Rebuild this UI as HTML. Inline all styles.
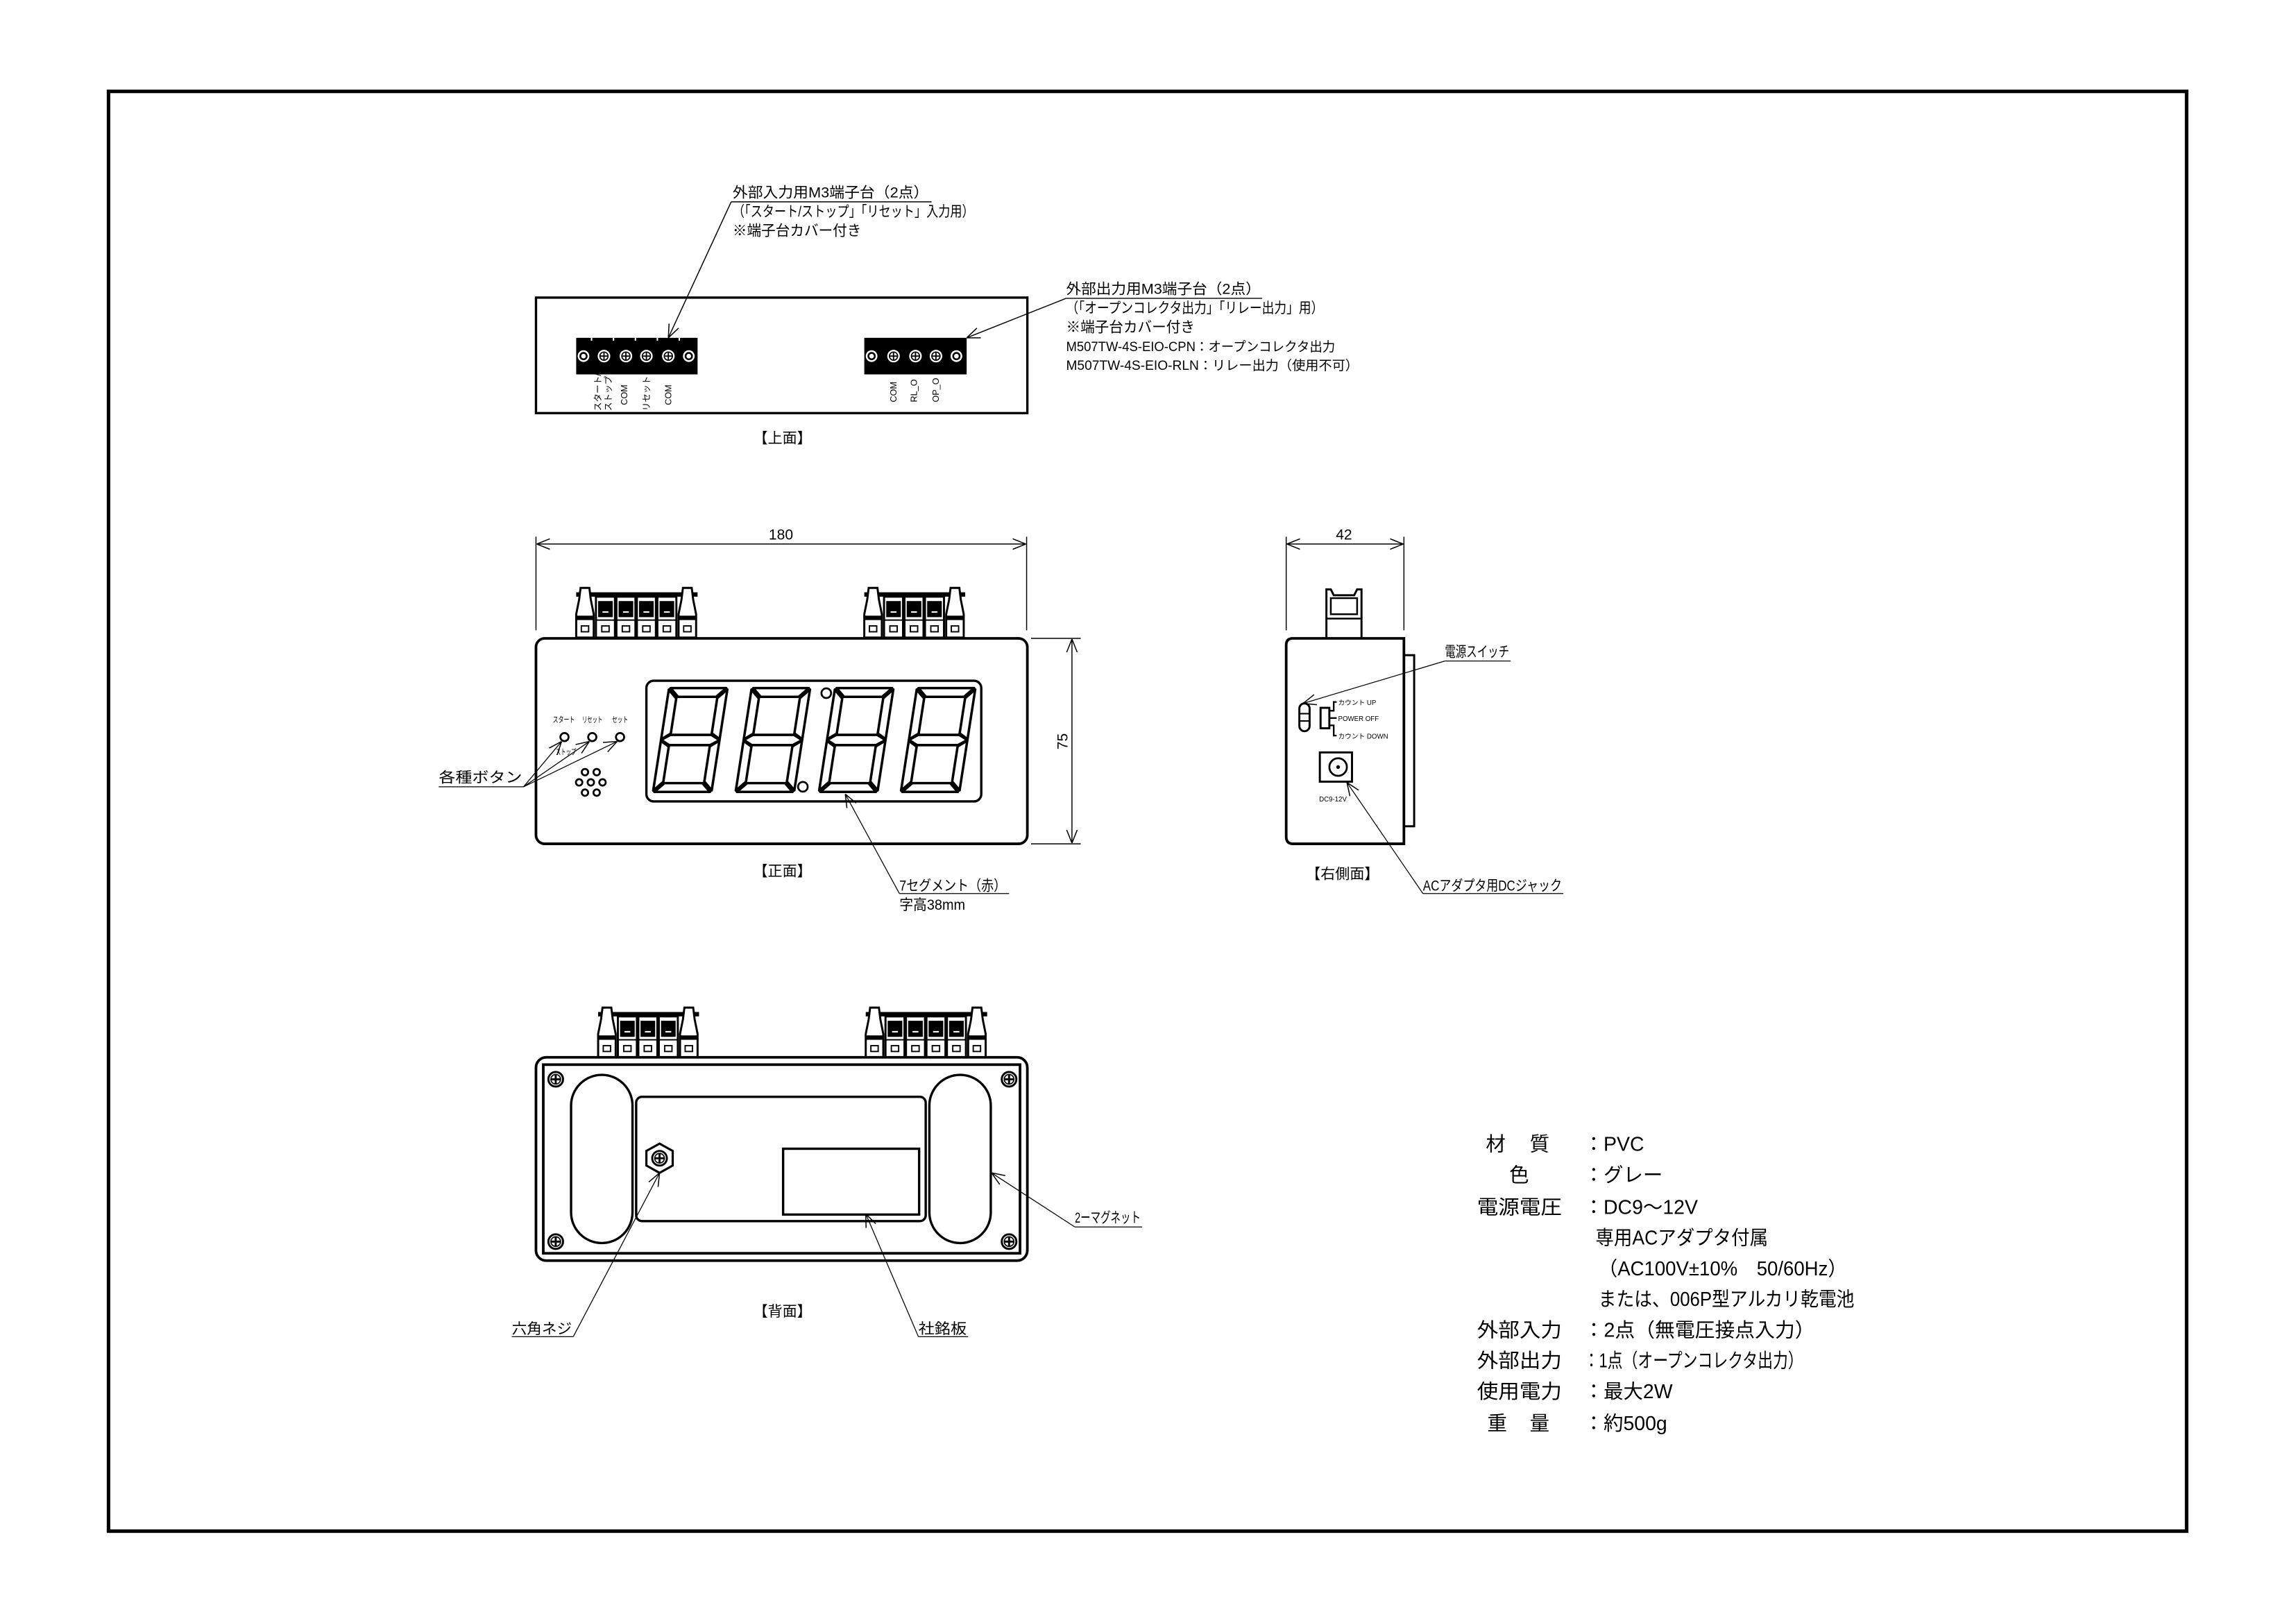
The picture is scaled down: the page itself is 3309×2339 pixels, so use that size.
<!DOCTYPE html>
<html><head><meta charset="utf-8"><style>
html,body{margin:0;padding:0;background:#fff}
svg{display:block}
text{font-family:"Liberation Sans","Noto Sans CJK JP",sans-serif;fill:#000}
</style></head><body>
<svg xmlns="http://www.w3.org/2000/svg" width="3309" height="2339" viewBox="0 0 1570 1109.8" preserveAspectRatio="none">
<defs>
<marker id="ar" viewBox="0 0 10 10" refX="10" refY="5" markerWidth="9" markerHeight="9" orient="auto-start-reverse" markerUnits="userSpaceOnUse"><path d="M0,1 L10,5 L0,9" fill="none" stroke="#000" stroke-width="0.8"/></marker>
<g id="term"><rect x="0.5" y="6" width="13" height="28" fill="#fff" stroke="#000" stroke-width="1.4"/><rect x="2" y="9" width="10" height="11" fill="#000"/><rect x="5" y="16" width="4" height="1" fill="#fff"/><line x1="1" y1="22" x2="13" y2="22" stroke="#000" stroke-width="1"/><rect x="4.5" y="26" width="5" height="4" fill="none" stroke="#000" stroke-width="0.9"/></g>
<g id="post"><path d="M4,0 L10,0 L11,8 L13,18 L13,34 L1,34 L1,18 L3,8 Z" fill="#fff" stroke="#000" stroke-width="1.4"/><rect x="1" y="19" width="12" height="3" fill="#000"/><rect x="4.5" y="26" width="5" height="4" fill="none" stroke="#000" stroke-width="0.9"/></g>
<g id="dig" fill="none" stroke="#000" stroke-width="1.7" stroke-linejoin="round">
<polygon points="1,0 39,0 33,6 7,6"/><polygon points="0,1 6,7 6,31 0,35"/><polygon points="40,1 40,35 34,31 34,7"/>
<polygon points="0,35.5 6,32 34,32 40,35.5 34,39 6,39"/><polygon points="0,36 6,40 6,64 0,70"/><polygon points="40,36 40,70 34,64 34,40"/><polygon points="1,71 39,71 33,65 7,65"/></g>
<g id="scr"><circle r="5" fill="#fff" stroke="#000" stroke-width="1.4"/><circle r="3.3" fill="none" stroke="#000" stroke-width="0.8"/><line x1="-3" y1="0" x2="3" y2="0" stroke="#000" stroke-width="1.4"/><line x1="0" y1="-3" x2="0" y2="3" stroke="#000" stroke-width="1.4"/></g>
<g id="tc"><circle r="4.3" fill="#fff"/><circle r="2.8" fill="none" stroke="#000" stroke-width="0.8"/><line x1="-2.5" y1="0" x2="2.5" y2="0" stroke="#000" stroke-width="0.9"/><line x1="0" y1="-2.5" x2="0" y2="2.5" stroke="#000" stroke-width="0.9"/></g>
<g id="te"><circle r="4" fill="#fff"/><circle r="2.2" fill="none" stroke="#000" stroke-width="1.2"/></g>
</defs>

<rect x="74.2" y="62.5" width="1421" height="984.5" fill="none" stroke="#000" stroke-width="2.4"/>

<!-- TOP VIEW -->
<rect x="366.5" y="203.5" width="336" height="79" fill="none" stroke="#000" stroke-width="1.6"/>
<rect x="394" y="231" width="83" height="25" fill="#000"/>
<g fill="#fff"><rect x="404" y="231" width="1" height="2"/><rect x="419" y="231" width="1" height="2"/><rect x="434" y="231" width="1" height="2"/><rect x="449" y="231" width="1" height="2"/><rect x="464" y="231" width="1" height="2"/></g>
<use href="#te" x="399" y="243.5"/><use href="#tc" x="413" y="243.5"/><use href="#tc" x="428" y="243.5"/><use href="#tc" x="442" y="243.5"/><use href="#tc" x="457" y="243.5"/><use href="#te" x="471" y="243.5"/>
<rect x="591" y="231" width="70" height="25" fill="#000"/>
<use href="#te" x="596" y="243.5"/><use href="#tc" x="611" y="243.5"/><use href="#tc" x="626" y="243.5"/><use href="#tc" x="640" y="243.5"/><use href="#te" x="654" y="243.5"/>
<g font-size="6">
<text transform="translate(411,281) rotate(-90)">スタート/</text>
<text transform="translate(418,281) rotate(-90)">ストップ</text>
<text transform="translate(429,277) rotate(-90)">COM</text>
<text transform="translate(444,281) rotate(-90)">リセット</text>
<text transform="translate(459,277) rotate(-90)">COM</text>
<text transform="translate(613,275) rotate(-90)">COM</text>
<text transform="translate(627,275) rotate(-90)">RL_O</text>
<text transform="translate(642,275) rotate(-90)">OP_O</text>
</g>
<g font-size="10">
<text x="501" y="135" textLength="134" lengthAdjust="spacingAndGlyphs">外部入力用M3端子台（2点）</text>
<text x="501" y="148" textLength="165" lengthAdjust="spacingAndGlyphs">（「スタート/ストップ」「リセット」入力用）</text>
<text x="501" y="161" textLength="88" lengthAdjust="spacingAndGlyphs">※端子台カバー付き</text>
<text x="729" y="201" textLength="133" lengthAdjust="spacingAndGlyphs">外部出力用M3端子台（2点）</text>
<text x="729" y="214" textLength="176" lengthAdjust="spacingAndGlyphs">（「オープンコレクタ出力」「リレー出力」用）</text>
<text x="729" y="227" textLength="88" lengthAdjust="spacingAndGlyphs">※端子台カバー付き</text>
<text x="729" y="240" font-size="9" textLength="184" lengthAdjust="spacingAndGlyphs">M507TW-4S-EIO-CPN：オープンコレクタ出力</text>
<text x="729" y="253" font-size="9" textLength="200" lengthAdjust="spacingAndGlyphs">M507TW-4S-EIO-RLN：リレー出力（使用不可）</text>
<text x="535" y="303" text-anchor="middle">【上面】</text>
</g>
<g stroke="#000" stroke-width="0.7" fill="none">
<line x1="500" y1="138" x2="637" y2="138"/>
<line x1="500" y1="138" x2="457" y2="231" marker-end="url(#ar)"/>
<line x1="729" y1="204" x2="863" y2="204"/>
<line x1="729" y1="204" x2="661" y2="231" marker-end="url(#ar)"/>
</g>

<!-- FRONT VIEW -->
<g stroke="#000" stroke-width="0.7" fill="none">
<line x1="366.5" y1="367" x2="366.5" y2="431"/><line x1="702" y1="367" x2="702" y2="431"/>
<line x1="367" y1="372" x2="701.5" y2="372" marker-start="url(#ar)" marker-end="url(#ar)"/>
<line x1="705" y1="436.5" x2="739" y2="436.5"/><line x1="705" y1="577" x2="739" y2="577"/>
<line x1="733" y1="437" x2="733" y2="576.5" marker-start="url(#ar)" marker-end="url(#ar)"/>
</g>
<text x="534" y="369" font-size="10" text-anchor="middle">180</text>
<text transform="translate(730,507) rotate(-90)" font-size="10" text-anchor="middle">75</text>
<rect x="394" y="405" width="83" height="3" fill="#000"/>
<use href="#post" x="393" y="402"/><use href="#term" x="407" y="402"/><use href="#term" x="421" y="402"/><use href="#term" x="435" y="402"/><use href="#term" x="449" y="402"/><use href="#post" x="463" y="402"/>
<rect x="591" y="405" width="69" height="3" fill="#000"/>
<use href="#post" x="590" y="402"/><use href="#term" x="604" y="402"/><use href="#term" x="618" y="402"/><use href="#term" x="632" y="402"/><use href="#post" x="646" y="402"/>
<rect x="366.5" y="436.5" width="336" height="140.5" rx="6" fill="#fff" stroke="#000" stroke-width="1.8"/>
<rect x="442" y="465.5" width="229" height="82.5" rx="5" fill="none" stroke="#000" stroke-width="1.6"/>
<use href="#dig" transform="translate(457.5,470.5) skewX(-8.8)"/>
<use href="#dig" transform="translate(514,470.5) skewX(-8.8)"/>
<use href="#dig" transform="translate(571,470.5) skewX(-8.8)"/>
<use href="#dig" transform="translate(627,470.5) skewX(-8.8)"/>
<circle cx="565" cy="474" r="3.3" fill="none" stroke="#000" stroke-width="1.3"/>
<circle cx="549" cy="538" r="3.3" fill="none" stroke="#000" stroke-width="1.3"/>
<g font-size="5.5"><text x="378" y="494" textLength="15" lengthAdjust="spacingAndGlyphs">スタート</text><text x="398" y="494" textLength="14" lengthAdjust="spacingAndGlyphs">リセット</text><text x="418.5" y="494" textLength="11" lengthAdjust="spacingAndGlyphs">セット</text><text x="380" y="516" textLength="14" lengthAdjust="spacingAndGlyphs">ストップ</text></g>
<g fill="none" stroke="#000" stroke-width="1.3"><circle cx="386" cy="504" r="2.8"/><circle cx="405" cy="504" r="2.8"/><circle cx="424" cy="504" r="2.8"/>
<circle cx="400" cy="528" r="2.2"/><circle cx="408" cy="528" r="2.2"/><circle cx="396" cy="535" r="2.2"/><circle cx="404" cy="535" r="2.2"/><circle cx="412" cy="535" r="2.2"/><circle cx="400" cy="542" r="2.2"/><circle cx="408" cy="542" r="2.2"/></g>
<g stroke="#000" stroke-width="0.6" fill="none">
<line x1="300" y1="538" x2="358" y2="538"/>
<line x1="358" y1="538" x2="384" y2="507" marker-end="url(#ar)"/>
<line x1="358" y1="538" x2="403" y2="507" marker-end="url(#ar)"/>
<line x1="358" y1="538" x2="422" y2="507" marker-end="url(#ar)"/>
<line x1="615" y1="611" x2="690" y2="611"/>
<line x1="615" y1="611" x2="578" y2="543" marker-end="url(#ar)"/>
</g>
<g font-size="10">
<text x="300" y="535" textLength="57" lengthAdjust="spacingAndGlyphs">各種ボタン</text>
<text x="535" y="599" text-anchor="middle">【正面】</text>
<text x="615" y="609" textLength="73" lengthAdjust="spacingAndGlyphs">7セグメント（赤）</text>
<text x="615" y="622" textLength="45" lengthAdjust="spacingAndGlyphs">字高38mm</text>
</g>

<!-- SIDE VIEW -->
<g stroke="#000" stroke-width="0.7" fill="none">
<line x1="879.5" y1="367" x2="879.5" y2="431"/><line x1="960" y1="367" x2="960" y2="431"/>
<line x1="880" y1="372" x2="959.5" y2="372" marker-start="url(#ar)" marker-end="url(#ar)"/>
</g>
<text x="919" y="369" font-size="10" text-anchor="middle">42</text>
<path d="M907,436 L907,403 L910,403 L912,407 L926,407 L928,403 L931,403 L931,436" fill="#fff" stroke="#000" stroke-width="1.4"/>
<rect x="910" y="409" width="18" height="11" fill="none" stroke="#000" stroke-width="1.2"/>
<line x1="907" y1="423" x2="931" y2="423" stroke="#000" stroke-width="1.2"/>
<rect x="960" y="448" width="7" height="117" fill="#fff" stroke="#000" stroke-width="1.4"/>
<path d="M884,436.5 L960,436.5 L960,577 L884,577 Q879.5,577 879.5,572 L879.5,441 Q879.5,436.5 884,436.5 Z" fill="#fff" stroke="#000" stroke-width="1.8"/>
<rect x="888.5" y="481" width="7" height="19" rx="3.5" fill="none" stroke="#000" stroke-width="1.4"/>
<line x1="888.5" y1="488" x2="895.5" y2="488" stroke="#000" stroke-width="1"/><line x1="888.5" y1="493" x2="895.5" y2="493" stroke="#000" stroke-width="1"/>
<rect x="903" y="484" width="6" height="14" fill="none" stroke="#000" stroke-width="1.4"/>
<path d="M909,486 L912,486 L912,480 L914,480 M909,491 L914,491 M909,496 L912,496 L912,503 L914,503" fill="none" stroke="#000" stroke-width="1.1"/>
<g font-size="4.6"><text x="915" y="482">カウント UP</text><text x="915" y="493">POWER OFF</text><text x="915" y="505">カウント DOWN</text><text x="902" y="548">DC9-12V</text></g>
<rect x="902.5" y="514.5" width="22" height="20" fill="none" stroke="#000" stroke-width="1.4"/>
<circle cx="915" cy="524.5" r="6" fill="none" stroke="#000" stroke-width="1.3"/><circle cx="915" cy="524.5" r="1.3" fill="#000"/>
<g stroke="#000" stroke-width="0.6" fill="none">
<line x1="988" y1="452" x2="1033" y2="452"/>
<line x1="988" y1="452" x2="891" y2="481" marker-end="url(#ar)"/>
<line x1="973" y1="611" x2="1069" y2="611"/>
<line x1="973" y1="611" x2="921" y2="535" marker-end="url(#ar)"/>
</g>
<g font-size="10">
<text x="988" y="449" textLength="44" lengthAdjust="spacingAndGlyphs">電源スイッチ</text>
<text x="918" y="601" text-anchor="middle">【右側面】</text>
<text x="973" y="609" textLength="95" lengthAdjust="spacingAndGlyphs">ACアダプタ用DCジャック</text>
</g>

<!-- BACK VIEW -->
<rect x="409" y="692" width="69" height="3" fill="#000"/>
<use href="#post" x="408" y="689"/><use href="#term" x="422" y="689"/><use href="#term" x="436" y="689"/><use href="#term" x="450" y="689"/><use href="#post" x="464" y="689"/>
<rect x="592" y="692" width="83" height="3" fill="#000"/>
<use href="#post" x="591" y="689"/><use href="#term" x="605" y="689"/><use href="#term" x="619" y="689"/><use href="#term" x="633" y="689"/><use href="#term" x="647" y="689"/><use href="#post" x="661" y="689"/>
<rect x="366.5" y="723" width="336" height="139" rx="7" fill="#fff" stroke="#000" stroke-width="1.8"/>
<rect x="371.5" y="728" width="326" height="129" fill="none" stroke="#000" stroke-width="1.8"/>
<use href="#scr" x="380" y="738"/><use href="#scr" x="690" y="738"/><use href="#scr" x="380" y="849"/><use href="#scr" x="690" y="849"/>
<rect x="390.5" y="735" width="42" height="115" rx="21" fill="none" stroke="#000" stroke-width="1.6"/>
<rect x="635.5" y="735" width="42" height="115" rx="21" fill="none" stroke="#000" stroke-width="1.6"/>
<rect x="435" y="750" width="198" height="85" rx="4" fill="none" stroke="#000" stroke-width="1.6"/>
<rect x="535.5" y="785.5" width="93" height="45" fill="none" stroke="#000" stroke-width="1.6"/>
<polygon points="451,782 460,787 460,797 451,802 442,797 442,787" fill="#fff" stroke="#000" stroke-width="1.5"/>
<use href="#scr" x="451" y="792"/>
<g stroke="#000" stroke-width="0.6" fill="none">
<line x1="350" y1="914" x2="392" y2="914"/>
<line x1="392" y1="914" x2="451" y2="802" marker-end="url(#ar)"/>
<line x1="628" y1="914" x2="662" y2="914"/>
<line x1="628" y1="914" x2="592" y2="830" marker-end="url(#ar)"/>
<line x1="735" y1="839" x2="781" y2="839"/>
<line x1="735" y1="839" x2="678" y2="802" marker-end="url(#ar)"/>
</g>
<g font-size="10">
<text x="535" y="900" text-anchor="middle">【背面】</text>
<text x="350" y="912" textLength="41" lengthAdjust="spacingAndGlyphs">六角ネジ</text>
<text x="628" y="912" textLength="33" lengthAdjust="spacingAndGlyphs">社銘板</text>
<text x="735" y="836" textLength="45" lengthAdjust="spacingAndGlyphs">2ーマグネット</text>
</g>

<!-- SPEC -->
<g font-size="13.5">
<text x="1016" y="787">材</text><text x="1046" y="787">質</text><text x="1083" y="787">：PVC</text>
<text x="1032" y="808">色</text><text x="1083" y="808">：グレー</text>
<text x="1010" y="830" textLength="58" lengthAdjust="spacingAndGlyphs">電源電圧</text><text x="1083" y="830">：DC9～12V</text>
<text x="1091" y="851" textLength="118" lengthAdjust="spacingAndGlyphs">専用ACアダプタ付属</text>
<text x="1093" y="872" textLength="170" lengthAdjust="spacingAndGlyphs">（AC100V±10%　50/60Hz）</text>
<text x="1093" y="893" textLength="175" lengthAdjust="spacingAndGlyphs">または、006P型アルカリ乾電池</text>
<text x="1010" y="914" textLength="58" lengthAdjust="spacingAndGlyphs">外部入力</text><text x="1083" y="914" textLength="158" lengthAdjust="spacingAndGlyphs">：2点（無電圧接点入力）</text>
<text x="1010" y="935" textLength="58" lengthAdjust="spacingAndGlyphs">外部出力</text><text x="1083" y="935" textLength="150" lengthAdjust="spacingAndGlyphs">：1点（オープンコレクタ出力）</text>
<text x="1010" y="956" textLength="58" lengthAdjust="spacingAndGlyphs">使用電力</text><text x="1083" y="956">：最大2W</text>
<text x="1017" y="978">重</text><text x="1046" y="978">量</text><text x="1083" y="978">：約500g</text>
</g>
</svg>
</body></html>
